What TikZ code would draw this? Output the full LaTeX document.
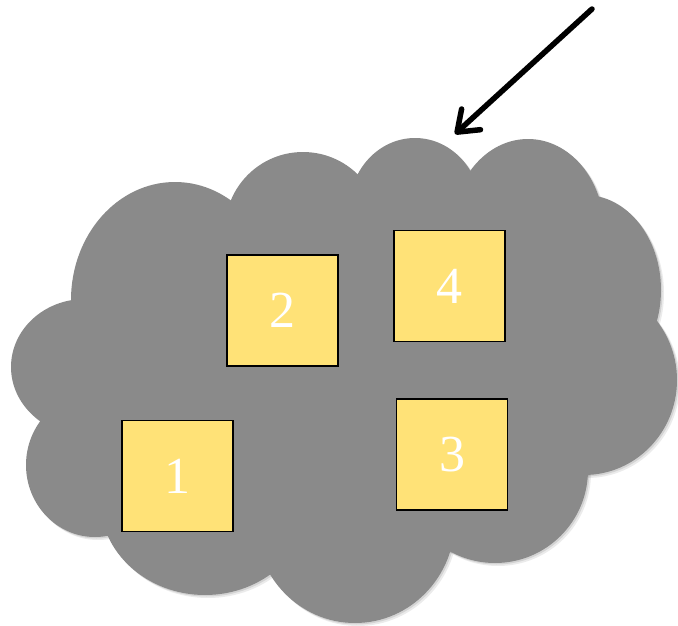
\documentclass[tikz,border=0pt]{standalone}
\usepackage{fontspec}
\setmainfont{Liberation Serif}
\usetikzlibrary{arrows.meta}
\definecolor{cloudgray}{HTML}{8A8A8A}
\definecolor{boxyellow}{HTML}{FFE277}
\tikzset{
  boxnode/.style={draw=black, line width=1.6pt, fill=boxyellow, minimum width=111pt, minimum height=111pt, inner sep=0pt, text=white, font=\fontsize{52}{60}\selectfont},
  pointer/.style={line width=5.5pt, line cap=round, -{Straight Barb[length=19pt, width=28pt, line width=5.5pt, line cap=round, round]}}
}
\newcommand{\cloudlobes}{%
  \fill (175,300) ellipse [x radius=104, y radius=118];
  \fill (303,230) ellipse [x radius=78, y radius=78];
  \fill (415,210) ellipse [x radius=66, y radius=72];
  \fill (528,230) ellipse [x radius=76, y radius=91];
  \fill (585,290) ellipse [x radius=76, y radius=95];
  \fill (584,380) ellipse [x radius=93, y radius=95];
  \fill (495,470) ellipse [x radius=93, y radius=93];
  \fill (355,520) ellipse [x radius=100, y radius=103];
  \fill (205,500) ellipse [x radius=105, y radius=95];
  \fill (95,465) ellipse [x radius=69, y radius=72];
  \fill (85,367) ellipse [x radius=74, y radius=68];
  \fill (350,370) ellipse [x radius=250, y radius=170];
}
\begin{document}
\begin{tikzpicture}[x=1pt, y=-1pt]
  \useasboundingbox (0,0) rectangle (678,626);
  % soft shadow
  \begin{scope}[shift={(3,3)}, fill=black, fill opacity=0.08]
    \cloudlobes
  \end{scope}
  \begin{scope}[shift={(1.5,1.5)}, fill=black, fill opacity=0.10]
    \cloudlobes
  \end{scope}
  % cloud
  \begin{scope}[fill=cloudgray]
    \cloudlobes
  \end{scope}
  % boxes
  \node[boxnode] (b1) at (177.5,476) {1};
  \node[boxnode] (b2) at (282.5,310.5) {2};
  \node[boxnode] (b4) at (449.5,286) {4};
  \node[boxnode] (b3) at (452,454.5) {3};
  % arrow
  \coordinate (astart) at (592,9);
  \coordinate (atip) at (455,134);
  \draw[pointer] (astart) -- (atip);
\end{tikzpicture}
\end{document}
